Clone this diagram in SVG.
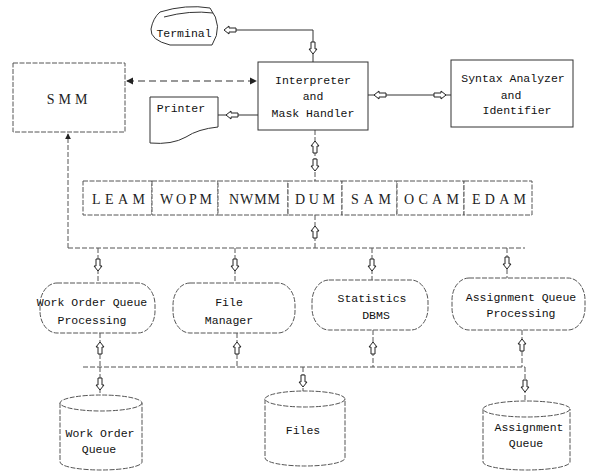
<svg xmlns="http://www.w3.org/2000/svg" xmlns:xlink="http://www.w3.org/1999/xlink" width="591" height="472" viewBox="0 0 591 472">
<style>
.box{fill:#fff;stroke:#333;stroke-width:1}
.faint{fill:#fff;stroke:#555;stroke-width:1;stroke-dasharray:5,1.5}
.mono{font-family:"Liberation Mono","DejaVu Sans Mono",monospace;font-size:11.5px;fill:#111;text-anchor:middle}
.serif{font-family:"Liberation Serif","DejaVu Serif",serif;font-size:14px;fill:#222;text-anchor:middle}
.ln{fill:none;stroke:#333;stroke-width:1}
.dl{fill:none;stroke:#555;stroke-width:1;stroke-dasharray:5,2}
.dsh{fill:none;stroke:#333;stroke-width:1.2;stroke-dasharray:7,4}
</style>
<defs>
<path id="ha" d="M-2,-6 H2 V1 H4 L0,6 L-4,1 H-2 Z" fill="#fff" stroke="#222" stroke-width="1"/>
<marker id="tip" viewBox="0 0 8 8" refX="7" refY="4" markerWidth="6" markerHeight="6" orient="auto-start-reverse">
<path d="M0,0 L8,4 L0,8 Z" fill="#222"/>
</marker>
</defs>
<rect width="591" height="472" fill="#fff"/>

<g id="connectors">
<polyline class="ln" points="236,30 313,30 313,62"/>
<line class="dsh" x1="127" y1="81" x2="256" y2="81" marker-start="url(#tip)" marker-end="url(#tip)"/>
<line class="ln" x1="218" y1="115" x2="258" y2="115"/>
<line class="ln" x1="368" y1="95" x2="451" y2="95"/>
<line class="dl" x1="315" y1="130" x2="315" y2="181"/>
<line class="dl" x1="315" y1="215" x2="315" y2="248"/>
<line class="dl" x1="68" y1="248" x2="68" y2="134" marker-end="url(#tip)"/>
<line class="dl" x1="68" y1="248" x2="525" y2="248"/>
<line class="dl" x1="98" y1="248" x2="98" y2="283"/>
<line class="dl" x1="235" y1="248" x2="235" y2="283"/>
<line class="dl" x1="372" y1="248" x2="372" y2="280"/>
<line class="dl" x1="507" y1="248" x2="507" y2="278"/>
<line class="dl" x1="100" y1="333" x2="100" y2="367"/>
<line class="dl" x1="237" y1="333" x2="237" y2="367"/>
<line class="dl" x1="373" y1="330" x2="373" y2="367"/>
<line class="dl" x1="522" y1="330" x2="522" y2="367"/>
<line class="dl" x1="83" y1="367" x2="525" y2="367"/>
<line class="dl" x1="100" y1="367" x2="100" y2="396"/>
<line class="dl" x1="303" y1="367" x2="303" y2="391"/>
<line class="dl" x1="525" y1="367" x2="525" y2="401"/>
<use xlink:href="#ha" transform="translate(230,30) rotate(90)"/>
<use xlink:href="#ha" transform="translate(313,48)"/>
<use xlink:href="#ha" transform="translate(232,115) rotate(90)"/>
<use xlink:href="#ha" transform="translate(380,95) rotate(90)"/>
<use xlink:href="#ha" transform="translate(440,95) rotate(-90)"/>
<use xlink:href="#ha" transform="translate(315,147) rotate(180)"/>
<use xlink:href="#ha" transform="translate(315,165)"/>
<use xlink:href="#ha" transform="translate(315,232) rotate(180)"/>
<use xlink:href="#ha" transform="translate(98,265)"/>
<use xlink:href="#ha" transform="translate(235,265)"/>
<use xlink:href="#ha" transform="translate(372,265)"/>
<use xlink:href="#ha" transform="translate(507,263)"/>
<use xlink:href="#ha" transform="translate(100,348) rotate(180)"/>
<use xlink:href="#ha" transform="translate(237,348) rotate(180)"/>
<use xlink:href="#ha" transform="translate(373,348) rotate(180)"/>
<use xlink:href="#ha" transform="translate(522,345) rotate(180)"/>
<use xlink:href="#ha" transform="translate(100,384)"/>
<use xlink:href="#ha" transform="translate(303,381)"/>
<use xlink:href="#ha" transform="translate(525,386)"/>
</g>

<g id="terminal">
<path class="box" d="M160,12 Q186,4 210,8 Q224,26 212,45 L170,45 Q150,40 151,29 Q153,18 160,12 Z"/>
<path class="ln" d="M164,17 Q190,10 213,13"/>
<text class="mono" x="184" y="37">Terminal</text>
</g>

<g id="smm">
<rect class="faint" x="13" y="63" width="112" height="69"/>
<text class="serif" x="69" y="104" letter-spacing="4">SMM</text>
</g>

<g id="interpreter">
<rect class="box" x="258" y="62" width="110" height="68"/>
<text class="mono" x="313" y="84">Interpreter</text>
<text class="mono" x="313" y="100">and</text>
<text class="mono" x="313" y="117">Mask Handler</text>
</g>

<g id="syntax">
<rect class="box" x="451" y="60" width="122" height="67"/>
<text class="mono" x="513" y="82">Syntax Analyzer</text>
<text class="mono" x="511" y="99">and</text>
<text class="mono" x="517" y="114">Identifier</text>
</g>

<g id="printer">
<path class="box" d="M150,97 H218 V127 Q198,129 186,137 Q172,145 150,143 Z"/>
<text class="mono" x="181" y="112">Printer</text>
</g>

<g id="leam"><rect class="faint" x="83" y="181" width="69" height="34"/><text class="serif" x="118.5" y="204" textLength="53" lengthAdjust="spacing">LEAM</text></g>
<g id="wopm"><rect class="faint" x="152" y="181" width="66" height="34"/><text class="serif" x="186" y="204" textLength="52" lengthAdjust="spacing">WOPM</text></g>
<g id="nwmm"><rect class="faint" x="218" y="181" width="70" height="34"/><text class="serif" x="254.5" y="204" textLength="51" lengthAdjust="spacing">NWMM</text></g>
<g id="dum"><rect class="faint" x="288" y="181" width="54" height="34"/><text class="serif" x="315" y="204" textLength="40" lengthAdjust="spacing">DUM</text></g>
<g id="sam"><rect class="faint" x="342" y="181" width="55" height="34"/><text class="serif" x="371" y="204" textLength="40" lengthAdjust="spacing">SAM</text></g>
<g id="ocam"><rect class="faint" x="397" y="181" width="67" height="34"/><text class="serif" x="431.5" y="204" textLength="55" lengthAdjust="spacing">OCAM</text></g>
<g id="edam"><rect class="faint" x="464" y="181" width="68" height="34"/><text class="serif" x="499" y="204" textLength="54" lengthAdjust="spacing">EDAM</text></g>

<g id="woqp">
<rect class="faint" x="40" y="283" width="115" height="50" rx="17" ry="22"/>
<text class="mono" x="92" y="306">Work Order Queue</text>
<text class="mono" x="92" y="324">Processing</text>
</g>
<g id="filemgr">
<rect class="faint" x="173" y="283" width="122" height="50" rx="17" ry="22"/>
<text class="mono" x="229" y="306">File</text>
<text class="mono" x="229" y="324">Manager</text>
</g>
<g id="statdbms">
<rect class="faint" x="312" y="280" width="116" height="50" rx="17" ry="22"/>
<text class="mono" x="372" y="302">Statistics</text>
<text class="mono" x="376" y="319">DBMS</text>
</g>
<g id="aqp">
<rect class="faint" x="452" y="278" width="133" height="52" rx="17" ry="22"/>
<text class="mono" x="521" y="301">Assignment Queue</text>
<text class="mono" x="521" y="317">Processing</text>
</g>

<g id="woq">
<path class="faint" d="M60,403 V462 A41,8 0 0 0 142,462 V403"/>
<ellipse class="faint" cx="101" cy="403" rx="41" ry="8"/>
<text class="mono" x="100" y="437">Work Order</text>
<text class="mono" x="99" y="453">Queue</text>
</g>
<g id="files">
<path class="faint" d="M265,399 V458 A40,8 0 0 0 345,458 V399"/>
<ellipse class="faint" cx="305" cy="399" rx="40" ry="8"/>
<text class="mono" x="303" y="434">Files</text>
</g>
<g id="aq">
<path class="faint" d="M483,409 V462 A43.5,8 0 0 0 570,462 V409"/>
<ellipse class="faint" cx="526.5" cy="409" rx="43.5" ry="8"/>
<text class="mono" x="529" y="431">Assignment</text>
<text class="mono" x="526" y="447">Queue</text>
</g>
</svg>
